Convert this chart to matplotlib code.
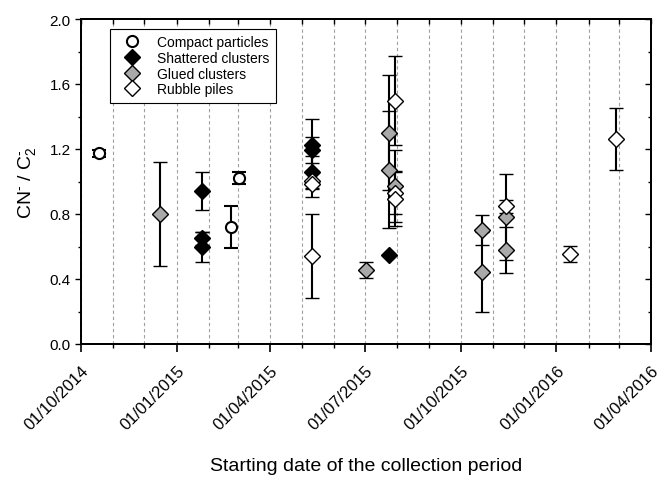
import matplotlib
matplotlib.use('Agg')
import matplotlib.pyplot as plt
import matplotlib.dates as mdates
from matplotlib.lines import Line2D
from matplotlib.ticker import MultipleLocator, FormatStrFormatter
import pandas as pd

plt.rcParams['font.family'] = ['Liberation Sans', 'DejaVu Sans']
plt.rcParams['mathtext.fontset'] = 'custom'
plt.rcParams['mathtext.rm'] = 'Liberation Sans'
plt.rcParams['mathtext.it'] = 'Liberation Sans:italic'

# ---------------- data ----------------
compact_dates = ['2014-10-18', '2015-02-22', '2015-03-02']
compact_vals = [1.173, 0.718, 1.021]
compact_errs = [0.02, 0.13, 0.035]

shattered_dates = ['2015-01-25', '2015-01-25', '2015-01-25',
                   '2015-05-11', '2015-05-11', '2015-05-11', '2015-07-24']
shattered_vals = [0.94, 0.65, 0.595, 1.225, 1.195, 1.06, 0.548]
shattered_errs = [0.118, 0.04, 0.092, 0.16, 0.08, 0.10, 0.0]

glued_dates = ['2014-12-16', '2015-07-02', '2015-07-24', '2015-07-24',
               '2015-07-30', '2015-10-22', '2015-10-22', '2015-11-14', '2015-11-14']
glued_vals = [0.80, 0.457, 1.30, 1.073, 0.972, 0.702, 0.445, 0.784, 0.58]
glued_errs = [0.32, 0.05, 0.355, 0.362, 0.22, 0.093, 0.245, 0.265, 0.142]

rubble_dates = ['2015-05-11', '2015-05-11', '2015-05-11', '2015-07-30',
                '2015-07-30', '2015-07-30', '2015-11-14', '2016-01-14', '2016-02-27']
rubble_vals = [1.005, 0.985, 0.543, 1.497, 0.93, 0.895, 0.847, 0.554, 1.262]
rubble_errs = [0.05, 0.08, 0.26, 0.275, 0.13, 0.17, 0.04, 0.047, 0.19]

legend_labels = ['Compact particles', 'Shattered clusters', 'Glued clusters', 'Rubble piles']
x_start, x_end = '2014-10-01', '2016-04-01'
y_ticks = [0.0, 0.4, 0.8, 1.2, 1.6, 2.0]

# ---------------- figure ----------------
fig = plt.figure(figsize=(6.65, 4.81), dpi=100)
ax = fig.add_axes([81/665, 1-345/481, 570/665, 325/481])

gray = '#a9a9a9'
styles = [
    dict(marker='o', ms=8, mfc='white', mew=1.5),
    dict(marker='D', ms=8.5, mfc='black', mew=1.0),
    dict(marker='D', ms=8.5, mfc=gray, mew=1.0),
    dict(marker='D', ms=8.5, mfc='white', mew=1.0),
]
series = [
    (compact_dates, compact_vals, compact_errs),
    (shattered_dates, shattered_vals, shattered_errs),
    (glued_dates, glued_vals, glued_errs),
    (rubble_dates, rubble_vals, rubble_errs),
]
for (d, v, e), st in zip(series, styles):
    ax.errorbar(pd.to_datetime(d), v, yerr=e, fmt=st['marker'], ms=st['ms'],
                mfc=st['mfc'], mec='black', mew=st['mew'], ecolor='black',
                elinewidth=1.5, capsize=5, capthick=1.5, zorder=3)

x0, x1 = pd.Timestamp(x_start), pd.Timestamp(x_end)
ax.set_xlim(x0, x1)
ax.set_ylim(0, 2.0)

ax.xaxis.set_major_locator(mdates.MonthLocator(bymonth=[1, 4, 7, 10]))
ax.xaxis.set_minor_locator(mdates.MonthLocator())
ax.xaxis.set_major_formatter(mdates.DateFormatter('%d/%m/%Y'))
ax.set_yticks(y_ticks)
ax.yaxis.set_minor_locator(MultipleLocator(0.2))
ax.yaxis.set_major_formatter(FormatStrFormatter('%.1f'))

ax.grid(True, which='both', axis='x', color='#a0a0a0', linestyle=(0, (3, 2.5)), linewidth=0.8)
ax.set_axisbelow(True)

ax.tick_params(axis='x', which='major', direction='out', length=5.5, width=1.2, labelsize=12, pad=8)
ax.tick_params(axis='x', which='minor', direction='out', length=3, width=1.0)
ax.tick_params(axis='y', which='major', direction='out', length=4, width=1.0, labelsize=11)
ax.tick_params(axis='y', which='minor', direction='out', length=2.5, width=1.0)
for lbl in ax.get_xticklabels():
    lbl.set_rotation(45)
    lbl.set_ha('right')
    lbl.set_rotation_mode('anchor')

for sp in ax.spines.values():
    sp.set_linewidth(1.2)

# top ticks (inward)
axt = ax.twiny()
axt.set_xlim(mdates.date2num(x0), mdates.date2num(x1))
axt.set_xticks(mdates.date2num(pd.date_range(x0, x1, freq='MS')))
axt.tick_params(axis='x', direction='in', length=3.5, width=1.0, labeltop=False)
# right ticks (inward)
axr = ax.twinx()
axr.set_ylim(0, 2.0)
axr.set_yticks(y_ticks)
axr.yaxis.set_minor_locator(MultipleLocator(0.2))
axr.tick_params(axis='y', which='major', direction='in', length=4, width=1.0, labelright=False)
axr.tick_params(axis='y', which='minor', direction='in', length=2.5, width=1.0)
for a in (axt, axr):
    for sp in a.spines.values():
        sp.set_linewidth(1.2)

ax.set_xlabel('Starting date of the collection period', fontsize=14, labelpad=18)
ax.set_ylabel(r'CN$^{\text{-}}$ / C$_{2}^{\text{-}}$', fontsize=14, labelpad=8)

handles = [Line2D([], [], ls='none', marker=st['marker'], ms=st['ms'], mfc=st['mfc'],
                  mec='black', mew=st['mew']) for st in styles]
leg = ax.legend(handles, legend_labels, loc='upper left',
                bbox_to_anchor=((110-81)/570, (345-30)/325), borderaxespad=0,
                fontsize=10, frameon=True, fancybox=False, edgecolor='black',
                framealpha=1, borderpad=0.45, labelspacing=0.12,
                handlelength=2.2, handletextpad=0.75)
leg.get_frame().set_linewidth(0.8)
leg.set_zorder(5)

fig.savefig('out.png', dpi=100)
